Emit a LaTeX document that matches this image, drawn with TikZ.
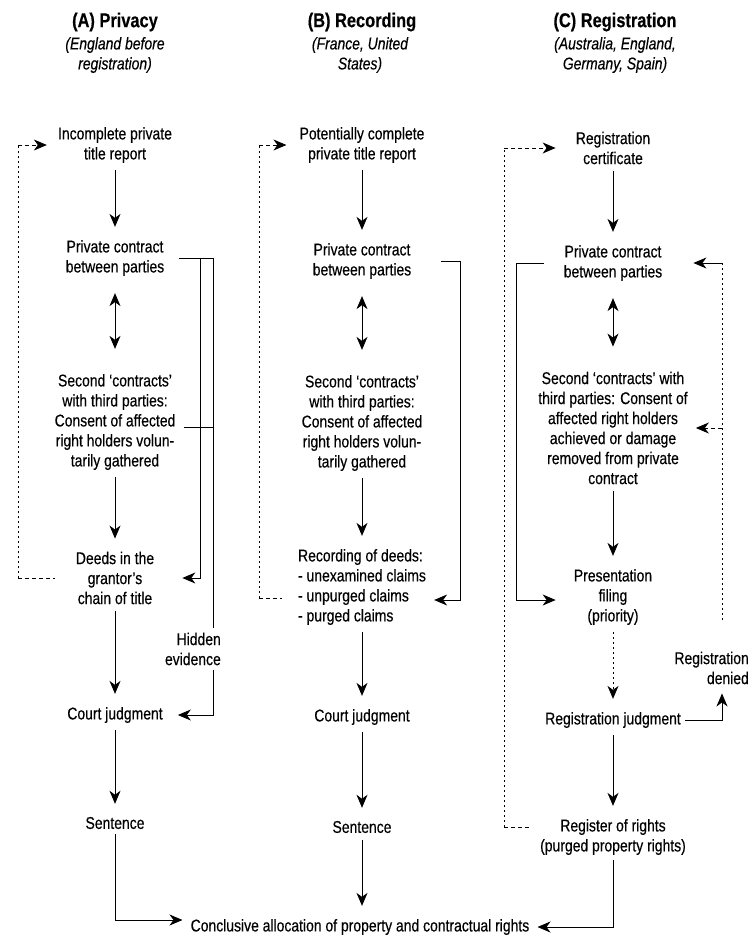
\documentclass[tikz,border=0pt]{standalone}
\usepackage{fontspec}
\setmainfont{Liberation Sans}[FakeStretch=0.82, FakeBold=0.4]
\usepackage{tikz}
\usetikzlibrary{arrows.meta, positioning, calc}

\newcommand{\bodyfs}{\fontsize{17}{20}\selectfont}

\begin{document}
\begin{tikzpicture}[x=1pt, y=-1pt,
    t/.style={align=center, font=\bodyfs, inner xsep=8pt, inner ysep=5pt},
    hd/.style={font=\fontsize{20}{24}\selectfont\bfseries, inner sep=0pt},
    sub/.style={align=center, font=\bodyfs\itshape, inner sep=0pt},
    arr/.style={-{Stealth[length=13pt, width=11pt, inset=4pt]}, line width=0.9pt},
    dn/.style={arr, shorten <=2pt, shorten >=8pt},
    dbl/.style={{Stealth[length=13pt, width=11pt, inset=4pt]}-{Stealth[length=13pt, width=11pt, inset=4pt]},
                line width=0.9pt, shorten <=12pt, shorten >=20pt},
    ln/.style={line width=0.9pt},
    vdot/.style={line width=0.9pt, dash pattern=on 2pt off 3pt},
    hdash/.style={line width=0.9pt, dash pattern=on 4pt off 3pt}]
  \useasboundingbox (0,0) rectangle (752,940);

  \node[hd]  (hA) at (115,22) {(A) Privacy};
  \node[sub] (sA) at (115,55) {(England before\\registration)};
  \node[hd]  (hB) at (362,22) {(B) Recording};
  \node[sub] (sB) at (360,55) {(France, United\\States)};
  \node[hd]  (hC) at (615,22) {(C) Registration};
  \node[sub] (sC) at (615,55) {(Australia, England,\\Germany, Spain)};

  \node[t] (a1) at (115,145) {Incomplete private\\title report};
  \node[t] (a2) at (115,258) {Private contract\\between parties};
  \node[t] (a3) at (115,422) {Second `contracts'\\with third parties:\\Consent of affected\\right holders volun-\\tarily gathered};
  \node[t] (a4) at (115,578) {Deeds in the\\grantor's\\chain of title};
  \node[t] (a5) at (115,715) {Court judgment};
  \node[t] (a6) at (115,823) {Sentence};
  \node[t, align=right, anchor=east, inner xsep=0pt] (hid) at (221,649) {Hidden\\evidence};

  \node[t] (b1) at (362,145) {Potentially complete\\private title report};
  \node[t] (b2) at (362,261) {Private contract\\between parties};
  \node[t] (b3) at (362,423) {Second `contracts'\\with third parties:\\Consent of affected\\right holders volun-\\tarily gathered};
  \node[t, align=left] (b4) at (362,587) {Recording of deeds:\\- unexamined claims\\- unpurged claims\\- purged claims};
  \node[t] (b5) at (362,717) {Court judgment};
  \node[t] (b6) at (362,827) {Sentence};

  \node[t] (c1) at (613,148) {Registration\\certificate};
  \node[t] (c2) at (613,263) {Private contract\\between parties};
  \node[t] (c3) at (613,428) {Second `contracts' with\\third parties: Consent of\\affected right holders\\achieved or damage\\removed from private\\contract};
  \node[t] (c4) at (613,597) {Presentation\\filing\\(priority)};
  \node[t] (c5) at (613,720) {Registration judgment};
  \node[t] (c6) at (613,837) {Register of rights\\(purged property rights)};
  \node[t, align=right, anchor=east, inner xsep=0pt] (den) at (749,668) {Registration\\denied};

  \node[t] (concl) at (360,927) {Conclusive allocation of property and contractual rights};

  \draw[dn] (a1) -- (a2);
  \draw[dbl] (a2) -- (a3);
  \draw[dn] (a3) -- (a4);
  \draw[dn] (a4) -- (a5);
  \draw[dn] (a5) -- (a6);
  \draw[dn] (b1) -- (b2);
  \draw[dbl] (b2) -- (b3);
  \draw[dn] (b3) -- (b4);
  \draw[dn] (b4) -- (b5);
  \draw[dn] (b5) -- (b6);
  \draw[dn] (b6) -- (b6 |- concl.north);
  \draw[dn] (c1) -- (c2);
  \draw[dbl] (c2) -- (c3);
  \draw[dn] (c3) -- (c4);
  \draw[dn, vdot] (c4) -- (c5);
  \draw[dn] (c5) -- (c6);

  \draw[arr] (a6.south) |- ([yshift=7pt]concl.west);
  \draw[arr] (c6.south) |- (concl.east);

  \coordinate (pA) at (200,258);
  \coordinate (qA) at (213,258);
  \coordinate (kA) at ([yshift=-5pt]a3.east);
  \draw[arr] ([xshift=7pt]a2.east) -- (pA) |- ([xshift=20pt]a4.east);
  \draw[ln] (pA) -- (qA) -- (qA |- hid.north);
  \draw[ln] (kA) -- (kA -| qA);
  \draw[arr] (qA |- hid.south) |- ([xshift=7pt]a5.east);

  \coordinate (rB) at (460,600);
  \draw[arr] ([xshift=22pt]b2.east) -| (rB) -- (rB -| b4.east);

  \coordinate (lC) at (516,600);
  \draw[arr, shorten >=10pt] ([xshift=-12pt]c2.west) -| (lC) -- (lC -| c4.west);

  \coordinate (rC) at (722,263);
  \draw[vdot, shorten <=27pt] (rC |- den.north) -- (rC);
  \draw[arr] (rC) -- ([xshift=23pt]c2.east);
  \draw[hdash, arr] (rC |- c3.east) -- (c3.east);
  \draw[arr, shorten >=4pt] ([xshift=-4pt]c5.east) -| (rC |- den.south);

  \coordinate (fA) at (18,578);
  \draw[vdot] (fA) -- (fA |- a1.west);
  \draw[hdash, shorten >=13pt] (fA) -- (fA -| a4.west);
  \draw[hdash, arr] (fA |- a1.west) -- ([xshift=-3pt]a1.west);

  \coordinate (fB) at (259,598);
  \draw[vdot] (fB) -- (fB |- b1.west);
  \draw[hdash, shorten >=8pt] (fB) -- (fB -| b4.west);
  \draw[hdash, arr] (fB |- b1.west) -- ([xshift=-5pt]b1.west);

  \coordinate (fC) at (504,827);
  \draw[vdot] (fC) -- (fC |- c1.west);
  \draw[hdash] (fC) -- (fC -| c6.west);
  \draw[hdash, arr] (fC |- c1.west) -- ([xshift=-12pt]c1.west);
\end{tikzpicture}
\end{document}
